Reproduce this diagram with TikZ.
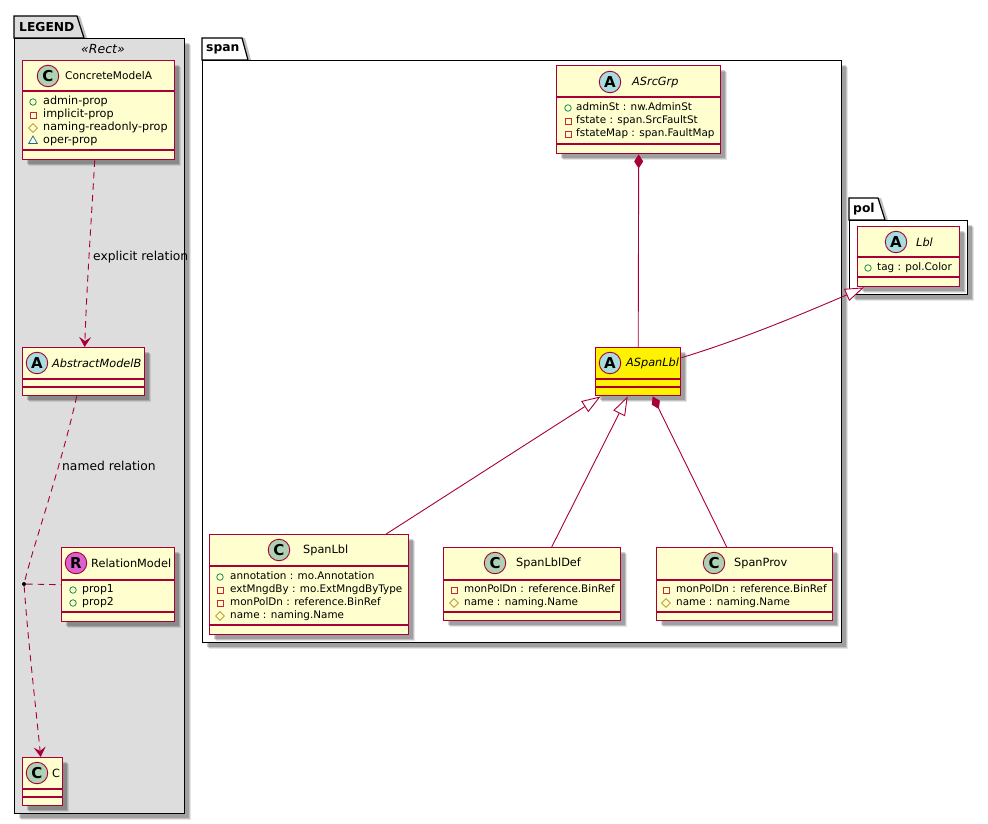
\documentclass[tikz,border=0pt]{standalone}
\usepackage{fontspec}
\setmainfont{DejaVu Sans}
\usepackage{xcolor}
\usetikzlibrary{positioning,arrows.meta,shadows,shapes.geometric}

\definecolor{umlred}{HTML}{A80036}
\definecolor{umlyellow}{HTML}{FEFECE}
\definecolor{pkggray}{HTML}{DDDDDD}
\definecolor{spotC}{HTML}{ADD1B2}
\definecolor{spotA}{HTML}{A9DCDF}
\definecolor{spotR}{HTML}{DA62CE}
\definecolor{pubgreen}{HTML}{038048}
\definecolor{prired}{HTML}{C82930}
\definecolor{progold}{HTML}{B38D22}
\definecolor{pkgblue}{HTML}{1963A0}

\begin{document}
\begin{tikzpicture}[x=1pt,y=-1pt]
    \tikzstyle{softshadow}=[drop shadow={shadow xshift=6pt, shadow yshift=-6pt, fill=black, opacity=0.1}, drop shadow={shadow xshift=5pt, shadow yshift=-5pt, fill=black, opacity=0.15}, drop shadow={shadow xshift=4pt, shadow yshift=-4pt, fill=black, opacity=0.18}]
    \tikzstyle{pkgbody}=[rectangle, draw=black, line width=1.4pt, anchor=north west, inner sep=0pt, softshadow]
    \tikzstyle{pkgtab}=[draw=black, line width=1.2pt, drop shadow={shadow xshift=3pt, shadow yshift=0pt, fill=black, opacity=0.25}]
    \tikzstyle{pkgname}=[anchor=west, inner sep=0pt, font=\fontsize{12.3}{14}\selectfont\bfseries]
    \tikzstyle{classbox}=[rectangle, draw=umlred, fill=umlyellow, line width=1.4pt, anchor=north west, inner sep=0pt, softshadow]
    \tikzstyle{sep}=[draw=umlred, line width=1.2pt]
    \tikzstyle{spot}=[circle, draw=umlred, line width=0.9pt, minimum size=21.5pt, inner sep=0pt, font=\fontsize{15}{15}\selectfont\bfseries]
    \tikzstyle{classname}=[anchor=west, inner sep=0pt, font=\fontsize{11.3}{13}\selectfont]
    \tikzstyle{abstractname}=[anchor=west, inner sep=0pt, font=\fontsize{11.3}{13}\selectfont\itshape]
    \tikzstyle{member}=[anchor=west, inner sep=0pt, text height=8pt, text depth=2.5pt, font=\fontsize{10.4}{12}\selectfont]
    \tikzstyle{linklabel}=[anchor=west, inner sep=0pt, font=\fontsize{12.3}{14}\selectfont]
    \tikzstyle{pubmark}=[circle, draw=pubgreen, line width=0.7pt, minimum size=6.5pt, inner sep=0pt]
    \tikzstyle{primark}=[rectangle, draw=prired, line width=0.7pt, minimum size=6pt, inner sep=0pt]
    \tikzstyle{promark}=[diamond, draw=progold, line width=0.7pt, minimum size=9pt, inner sep=0pt]
    \tikzstyle{pkgmark}=[regular polygon, regular polygon sides=3, draw=pkgblue, line width=0.7pt, minimum size=10pt, inner sep=0pt]
    \tikzstyle{link}=[draw=umlred, line width=0.9pt]
    \tikzstyle{dashlink}=[link, dash pattern=on 6.5pt off 5pt]
    \tikzstyle{extends}=[link, -{Triangle[open, fill=white, length=19pt, width=13pt]}]
    \tikzstyle{owns}=[link, {Diamond[length=14pt, width=9pt]}-]
    \tikzstyle{depends}=[dashlink, -{Stealth[length=10pt, width=12pt, inset=4pt]}]

    \useasboundingbox (0,0) rectangle (988,824);

    % Package LEGEND
    \draw[pkgtab, fill=pkggray] (14,38) -- (14,16) -- (77,16) -- (84,38) -- cycle;
    \node[pkgbody, fill=pkggray, minimum width=170pt, minimum height=775pt] (LEGEND) at (14,38) {};
    \node[pkgname] (LEGENDname) at (19,27) {LEGEND};
    \node[inner sep=0pt, font=\fontsize{12.5}{14}\selectfont\itshape] (Rect) at (103,49) {«Rect»};

    % Package span
    \draw[pkgtab, fill=white] (202,60) -- (202,38) -- (242,38) -- (248,60) -- cycle;
    \node[pkgbody, fill=white, minimum width=639pt, minimum height=582pt] (span) at (202,60) {};
    \node[pkgname] (spanname) at (206,49) {span};

    % Package pol
    \draw[pkgtab, fill=white] (849,220) -- (849,198) -- (878,198) -- (885,220) -- cycle;
    \node[pkgbody, fill=white, minimum width=118pt, minimum height=74pt] (pol) at (849,220) {};
    \node[pkgname] (polname) at (853,209) {pol};

    % ConcreteModelA
    \node[classbox, minimum width=152pt, minimum height=99pt] (ConcreteModelA) at (22,60) {};
    \draw[sep] (22,91) -- (174,91);
    \draw[sep] (22,150) -- (174,150);
    \node[spot, fill=spotC] (ConcreteModelAspot) at (48,76) {C};
    \node[classname, font=\fontsize{10.6}{13}\selectfont] (ConcreteModelAname) at (65,76) {ConcreteModelA};
    \foreach \y/\s/\t in {102/pubmark/admin-prop,115/primark/implicit-prop,128/promark/naming-readonly-prop,141/pkgmark/oper-prop}{
        \node[\s] (ConcreteModelAi\y) at (33,\y) {};
        \node[member, font=\fontsize{11.2}{12}\selectfont] (ConcreteModelAm\y) at (43,\y) {\t};
    }

    % AbstractModelB
    \node[classbox, minimum width=122pt, minimum height=48pt] (AbstractModelB) at (22,347) {};
    \draw[sep] (22,379) -- (144,379);
    \draw[sep] (22,387) -- (144,387);
    \node[spot, fill=spotA] (AbstractModelBspot) at (37,363) {A};
    \node[abstractname] (AbstractModelBname) at (52,363) {AbstractModelB};

    % RelationModel
    \node[classbox, minimum width=113pt, minimum height=74pt] (RelationModel) at (61,547) {};
    \draw[sep] (61,580) -- (174,580);
    \draw[sep] (61,612) -- (174,612);
    \node[spot, fill=spotR] (RelationModelspot) at (76,563) {R};
    \node[classname] (RelationModelname) at (91,563) {RelationModel};
    \foreach \y/\s/\t in {590/pubmark/prop1,603/pubmark/prop2}{
        \node[\s] (RelationModeli\y) at (73,\y) {};
        \node[member, font=\fontsize{10.9}{12}\selectfont] (RelationModelm\y) at (82,\y) {\t};
    }

    % C
    \node[classbox, minimum width=40pt, minimum height=48pt] (C) at (22,757) {};
    \draw[sep] (22,789) -- (62,789);
    \draw[sep] (22,797) -- (62,797);
    \node[spot, fill=spotC] (Cspot) at (37,773) {C};
    \node[classname] (Cname) at (52,773) {C};

    % Point on the named relation
    \node[circle, fill=black, minimum size=4pt, inner sep=0pt] (RelationDot) at (24,584) {};

    % ASrcGrp
    \node[classbox, minimum width=164pt, minimum height=88pt] (ASrcGrp) at (556,65) {};
    \draw[sep] (556,97) -- (720,97);
    \draw[sep] (556,144) -- (720,144);
    \node[spot, fill=spotA] (ASrcGrpspot) at (610,82) {A};
    \node[abstractname] (ASrcGrpname) at (632,82) {ASrcGrp};
    \foreach \y/\s/\t in {108/pubmark/{adminSt : nw.AdminSt},121/primark/{fstate : span.SrcFaultSt},134/primark/{fstateMap : span.FaultMap}}{
        \node[\s] (ASrcGrpi\y) at (568,\y) {};
        \node[member] (ASrcGrpm\y) at (576,\y) {\t};
    }

    % Lbl
    \node[classbox, minimum width=102pt, minimum height=60pt] (Lbl) at (857,226) {};
    \draw[sep] (857,257) -- (959,257);
    \draw[sep] (857,277) -- (959,277);
    \node[spot, fill=spotA] (Lblspot) at (896,242) {A};
    \node[abstractname] (Lblname) at (916,242) {Lbl};
    \node[pubmark] (Lbli268) at (868,268) {};
    \node[member] (Lblm268) at (877,268) {tag : pol.Color};

    % ASpanLbl
    \node[classbox, fill=yellow, minimum width=85pt, minimum height=48pt] (ASpanLbl) at (595,347) {};
    \draw[sep] (595,379) -- (680,379);
    \draw[sep] (595,387) -- (680,387);
    \node[spot, fill=spotA] (ASpanLblspot) at (610,363) {A};
    \node[abstractname] (ASpanLblname) at (626,363) {ASpanLbl};

    % SpanLbl
    \node[classbox, minimum width=199pt, minimum height=100pt] (SpanLbl) at (209,534) {};
    \draw[sep] (209,566) -- (408,566);
    \draw[sep] (209,625) -- (408,625);
    \node[spot, fill=spotC] (SpanLblspot) at (279,550) {C};
    \node[classname] (SpanLblname) at (303,550) {SpanLbl};
    \foreach \y/\s/\t in {577/pubmark/{annotation : mo.Annotation},590/primark/{extMngdBy : mo.ExtMngdByType},603/primark/{monPolDn : reference.BinRef},616/promark/{name : naming.Name}}{
        \node[\s] (SpanLbli\y) at (220,\y) {};
        \node[member] (SpanLblm\y) at (230,\y) {\t};
    }

    % SpanLblDef
    \node[classbox, minimum width=177pt, minimum height=73pt] (SpanLblDef) at (443,547) {};
    \draw[sep] (443,580) -- (620,580);
    \draw[sep] (443,612) -- (620,612);
    \node[spot, fill=spotC] (SpanLblDefspot) at (495,563) {C};
    \node[classname] (SpanLblDefname) at (516,563) {SpanLblDef};
    \foreach \y/\s/\t in {590/primark/{monPolDn : reference.BinRef},603/promark/{name : naming.Name}}{
        \node[\s] (SpanLblDefi\y) at (454,\y) {};
        \node[member] (SpanLblDefm\y) at (464,\y) {\t};
    }

    % SpanProv
    \node[classbox, minimum width=176pt, minimum height=73pt] (SpanProv) at (656,547) {};
    \draw[sep] (656,580) -- (832,580);
    \draw[sep] (656,612) -- (832,612);
    \node[spot, fill=spotC] (SpanProvspot) at (714,563) {C};
    \node[classname] (SpanProvname) at (734,563) {SpanProv};
    \foreach \y/\s/\t in {590/primark/{monPolDn : reference.BinRef},603/promark/{name : naming.Name}}{
        \node[\s] (SpanProvi\y) at (666,\y) {};
        \node[member] (SpanProvm\y) at (676,\y) {\t};
    }

    % Connections in LEGEND
    \draw[depends] ([xshift=-4pt]ConcreteModelA.south) .. controls (92,210) and (87,280) .. ([xshift=1pt]AbstractModelB.north);
    \node[linklabel] (explicit) at (93,257) {explicit relation};
    \draw[dashlink] ([xshift=-7pt]AbstractModelB.south) .. controls (60,470) and (35,540) .. (RelationDot);
    \node[linklabel] (named) at (62,466) {named relation};
    \draw[depends] (RelationDot) .. controls (28,640) and (35,700) .. ([xshift=-2pt]C.north);
    \draw[dashlink] (RelationDot) -- (RelationModel.west);

    % Connections in span and pol
    \draw[owns] (ASrcGrp.south) -- (ASpanLbl.north);
    \draw[extends] ([yshift=14pt]ASpanLbl.east) .. controls (740,340) and (800,315) .. ([xshift=7pt]Lbl.south west);
    \draw[extends] ([xshift=77pt]SpanLbl.north) -- ([xshift=-37.5pt]ASpanLbl.south);
    \draw[extends] ([xshift=19.5pt]SpanLblDef.north) -- ([xshift=-10.5pt]ASpanLbl.south);
    \draw[owns] ([xshift=14.5pt]ASpanLbl.south) -- ([xshift=-18pt]SpanProv.north);
\end{tikzpicture}
\end{document}
